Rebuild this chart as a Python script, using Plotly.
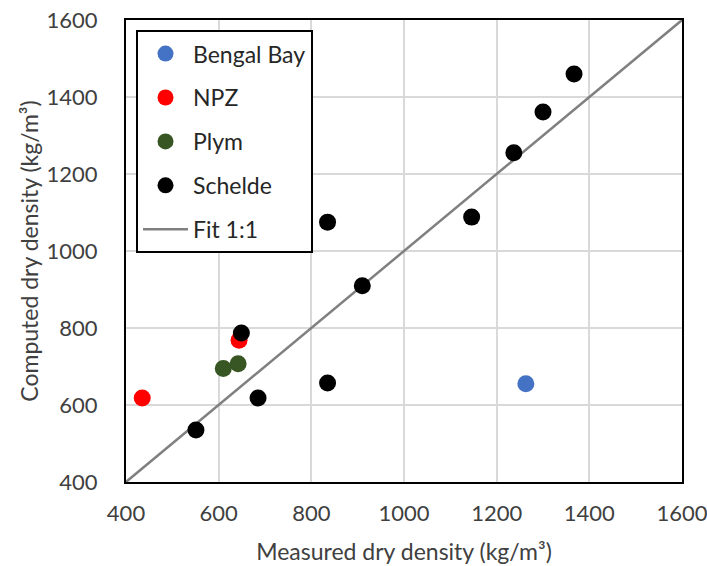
import plotly.graph_objects as go

bengal_x = [1263]
bengal_y = [655]
npz_x = [435, 644]
npz_y = [618, 768]
plym_x = [610, 642]
plym_y = [695, 707]
schelde_x = [649, 551, 685, 835, 835, 910, 1146, 1237, 1300, 1367]
schelde_y = [787, 535, 618, 657, 1075, 910, 1088, 1255, 1361, 1460]
fit_x = [400, 1600]
fit_y = [400, 1600]
tick_vals = [400, 600, 800, 1000, 1200, 1400, 1600]

FONT = "Lato, 'Open Sans', sans-serif"
TXT = "#404040"
fig = go.Figure()
fig.add_trace(go.Scatter(x=fit_x, y=fit_y, mode="lines", name="Fit 1:1",
                         line=dict(color="#808080", width=2.5),
                         legendgroup="e", legendrank=5))
series = [("Bengal Bay", bengal_x, bengal_y, "#4472C4", 1),
          ("NPZ", npz_x, npz_y, "#FF0000", 2),
          ("Plym", plym_x, plym_y, "#375623", 3),
          ("Schelde", schelde_x, schelde_y, "#000000", 4)]
for name, xs, ys, col, r in series:
    fig.add_trace(go.Scatter(x=xs, y=ys, mode="markers", name=name,
                             marker=dict(color=col, size=17),
                             legendgroup=name, legendrank=r))

axis_common = dict(range=[400, 1600], tickvals=tick_vals, showgrid=True,
                   gridcolor="#d9d9d9", gridwidth=1.5, showline=True,
                   linecolor="black", linewidth=2, mirror=True, zeroline=False,
                   tickfont=dict(size=22, color=TXT, family=FONT),
                   ticks="outside", tickcolor="rgba(0,0,0,0)",
                   ticklabeloverflow="allow", automargin=False)
fig.update_xaxes(**axis_common, ticklen=11,
                 title=dict(text="Measured dry density (kg/m³)",
                            font=dict(size=23, color=TXT, family=FONT),
                            standoff=18))
fig.update_yaxes(**axis_common, ticklen=22,
                 title=dict(text="Computed dry density (kg/m³)",
                            font=dict(size=23, color=TXT, family=FONT),
                            standoff=2))
fig.update_layout(
    width=707, height=566,
    margin=dict(l=126, r=25, t=20, b=84),
    plot_bgcolor="white", paper_bgcolor="white",
    font=dict(family=FONT),
    legend=dict(x=0.018, y=0.978, xanchor="left", yanchor="top",
                bordercolor="black", borderwidth=2, bgcolor="white",
                font=dict(size=23, color="#262626", family=FONT),
                tracegroupgap=11, itemwidth=45),
)
fig.write_html("out.html", config={"displayModeBar": False},
               post_script="document.body.style.margin='0';"
                           "document.body.style.overflow='hidden';")
